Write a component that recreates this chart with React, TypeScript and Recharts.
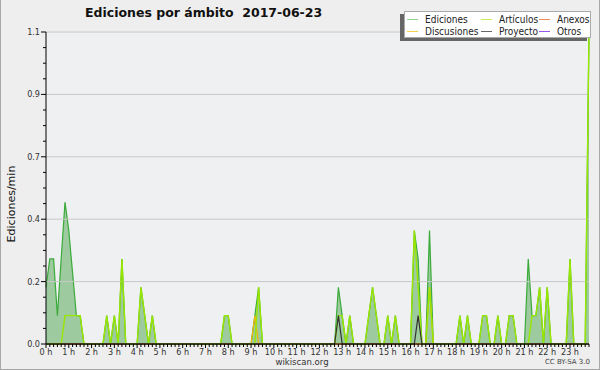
import React from 'react'
import {
  ComposedChart,
  Area,
  Line,
  XAxis,
  YAxis,
  CartesianGrid,
  ReferenceLine,
} from 'recharts'

// 10-minute slots, one row per hour (6 slots)
const ediciones = [
  0.2, 0.3, 0.3, 0.1, 0.3, 0.5, // 0 h
  0.4, 0.25, 0.1, 0.1, 0, 0, // 1 h
  0, 0, 0, 0, 0.1, 0, // 2 h
  0.1, 0, 0.3, 0, 0, 0, // 3 h
  0, 0.2, 0.1, 0, 0.1, 0, // 4 h
  0, 0, 0, 0, 0, 0, // 5 h
  0, 0, 0, 0, 0, 0, // 6 h
  0, 0, 0, 0, 0, 0.1, // 7 h
  0.1, 0, 0, 0, 0, 0, // 8 h
  0, 0.1, 0.2, 0, 0, 0, // 9 h
  0, 0, 0, 0, 0, 0, // 10 h
  0, 0, 0, 0, 0, 0, // 11 h
  0, 0, 0, 0, 0, 0.2, // 12 h
  0.1, 0, 0.1, 0, 0, 0, // 13 h
  0, 0.1, 0.2, 0.1, 0, 0, // 14 h
  0.1, 0, 0.1, 0, 0, 0, // 15 h
  0, 0.4, 0.3, 0, 0, 0.4, // 16 h
  0, 0, 0, 0, 0, 0, // 17 h
  0, 0.1, 0, 0.1, 0, 0, // 18 h
  0, 0.1, 0.1, 0, 0, 0.1, // 19 h
  0, 0, 0.1, 0.1, 0, 0, // 20 h
  0, 0.3, 0.1, 0.1, 0.2, 0, // 21 h
  0.2, 0, 0, 0, 0, 0, // 22 h
  0.3, 0, 0, 0, 0, 1.1, // 23 h
]

const articulos = [
  0, 0, 0, 0, 0, 0.1, // 0 h
  0.1, 0.1, 0.1, 0.1, 0, 0, // 1 h
  0, 0, 0, 0, 0.1, 0, // 2 h
  0.1, 0, 0.3, 0, 0, 0, // 3 h
  0, 0.2, 0.1, 0, 0.1, 0, // 4 h
  0, 0, 0, 0, 0, 0, // 5 h
  0, 0, 0, 0, 0, 0, // 6 h
  0, 0, 0, 0, 0, 0.1, // 7 h
  0.1, 0, 0, 0, 0, 0, // 8 h
  0, 0, 0.2, 0, 0, 0, // 9 h
  0, 0, 0, 0, 0, 0, // 10 h
  0, 0, 0, 0, 0, 0, // 11 h
  0, 0, 0, 0, 0, 0.1, // 12 h
  0.1, 0, 0.1, 0, 0, 0, // 13 h
  0, 0.1, 0.2, 0.1, 0, 0, // 14 h
  0.1, 0, 0.1, 0, 0, 0, // 15 h
  0, 0.4, 0.2, 0, 0, 0.2, // 16 h
  0, 0, 0, 0, 0, 0, // 17 h
  0, 0.1, 0, 0.1, 0, 0, // 18 h
  0, 0.1, 0.1, 0, 0, 0.1, // 19 h
  0, 0, 0.1, 0.1, 0, 0, // 20 h
  0, 0, 0.1, 0.1, 0.2, 0, // 21 h
  0.2, 0, 0, 0, 0, 0, // 22 h
  0.3, 0, 0, 0, 0, 1.1, // 23 h
]

// sparse series: [slot index, value], every other slot is 0
const discusiones: [number, number][] = [[55, 0.1], [101, 0.2]]
const proyecto: [number, number][] = [[77, 0.1], [98, 0.1]]
const anexos: [number, number][] = []
const otros: [number, number][] = []

const hourLabels = [
  '0 h', '1 h', '2 h', '3 h', '4 h', '5 h', '6 h', '7 h', '8 h', '9 h', '10 h', '11 h',
  '12 h', '13 h', '14 h', '15 h', '16 h', '17 h', '18 h', '19 h', '20 h', '21 h', '22 h', '23 h',
]

const yMajor = [0, 0.22, 0.44, 0.66, 0.88, 1.1]

const FONT = '"DejaVu Sans", sans-serif'
const COND = '"DejaVu Sans Condensed", "DejaVu Sans", sans-serif'

const sparse = (list: [number, number][], i: number) => {
  const hit = list.find((p) => p[0] === i)
  return hit ? hit[1] : 0
}

const data = ediciones.map((v, i) => ({
  t: i,
  ediciones: v,
  articulos: articulos[i],
  discusiones: sparse(discusiones, i),
  proyecto: sparse(proyecto, i),
  anexos: sparse(anexos, i),
  otros: sparse(otros, i),
}))

const xTicks = data.map((d) => d.t)
const yTicks: number[] = []
yMajor.forEach((v, i) => {
  yTicks.push(v)
  if (i < yMajor.length - 1) {
    const step = (yMajor[i + 1] - v) / 4
    for (let k = 1; k < 4; k++) yTicks.push(v + step * k)
  }
})

const legendItems = [
  { name: 'Ediciones', color: '#8fcf8f' },
  { name: 'Artículos', color: '#c8ee55' },
  { name: 'Anexos', color: '#ee8a5a' },
  { name: 'Discusiones', color: '#f5d04a' },
  { name: 'Proyecto', color: '#666666' },
  { name: 'Otros', color: '#9a55ee' },
]

const YTick = (props: any) => {
  const { x, y, payload } = props
  const major = yMajor.some((m) => Math.abs(m - payload.value) < 1e-6)
  return (
    <g>
      <line x1={x - (major ? 5 : 3)} x2={x} y1={y} y2={y} stroke="#000" />
      {major && (
        <text x={x - 6} y={y + 3} textAnchor="end" fontSize={9} fill="#333" fontFamily={COND}>
          {payload.value.toFixed(1)}
        </text>
      )}
    </g>
  )
}

const XTick = (props: any) => {
  const { x, y, payload } = props
  const hour = payload.value % 6 === 0
  return (
    <g>
      <line x1={x} x2={x} y1={y} y2={y + (hour ? 4 : 3)} stroke="#000" />
      {hour && (
        <text x={x} y={y + 10.5} textAnchor="middle" fontSize={9} fill="#333" fontFamily={COND}>
          {hourLabels[payload.value / 6]}
        </text>
      )}
    </g>
  )
}

export default function App() {
  return (
    <div
      style={{
        position: 'absolute',
        left: 0,
        top: 0,
        width: 600,
        height: 370,
        background: '#eeeeee',
        fontFamily: FONT,
        overflow: 'hidden',
      }}
    >
      <ComposedChart
        width={600}
        height={370}
        data={data}
        margin={{ top: 32, right: 11, bottom: 0, left: 10 }}
      >
        <CartesianGrid horizontal={false} vertical={false} fill="#eff0f1" />
        {yMajor.slice(1).map((v) => (
          <ReferenceLine key={v} y={v} stroke="#c8c8c8" strokeWidth={1} />
        ))}
        <Area
          type="linear"
          dataKey="ediciones"
          stroke="#3aaa3a"
          strokeWidth={1.2}
          fill="#3c9c3c"
          fillOpacity={0.45}
          isAnimationActive={false}
        />
        <Line type="linear" dataKey="otros" stroke="#8833ff" dot={false} strokeWidth={1.2} isAnimationActive={false} />
        <Line type="linear" dataKey="anexos" stroke="#ff7733" dot={false} strokeWidth={1.2} isAnimationActive={false} />
        <Line type="linear" dataKey="discusiones" stroke="#f0b800" dot={false} strokeWidth={1.2} isAnimationActive={false} />
        <Line type="linear" dataKey="articulos" stroke="#99e600" dot={false} strokeWidth={1.4} isAnimationActive={false} />
        <Line type="linear" dataKey="proyecto" stroke="#333333" dot={false} strokeWidth={1.2} isAnimationActive={false} />
        <XAxis
          dataKey="t"
          type="number"
          domain={[0, 143]}
          ticks={xTicks}
          interval={0}
          height={26}
          tickSize={0}
          tickMargin={0}
          tick={<XTick />}
          axisLine={{ stroke: '#000' }}
        />
        <YAxis
          type="number"
          domain={[0, 1.1]}
          ticks={yTicks}
          interval={0}
          width={36}
          tickSize={0}
          tickMargin={0}
          tick={<YTick />}
          axisLine={{ stroke: '#000' }}
        />
      </ComposedChart>

      <div
        style={{
          position: 'absolute',
          left: 85,
          top: 5,
          fontSize: 12.5,
          fontWeight: 'bold',
          color: '#111',
          whiteSpace: 'pre',
        }}
      >
        {'Ediciones por ámbito  2017-06-23'}
      </div>

      <div
        style={{
          position: 'absolute',
          left: 11,
          top: 204,
          transform: 'translate(-50%, -50%) rotate(-90deg)',
          fontSize: 11,
          color: '#111',
          whiteSpace: 'nowrap',
        }}
      >
        Ediciones/min
      </div>

      <div
        style={{
          position: 'absolute',
          left: 404,
          top: 11,
          width: 187,
          height: 27,
          background: '#fff',
          border: '1px solid #aaa',
          boxShadow: '-4px 3px 0 #666',
          display: 'grid',
          gridTemplateColumns: '74px 58px 52px',
          gridTemplateRows: '12px 12px',
          padding: '1px 0 0 2px',
          boxSizing: 'border-box',
          fontFamily: COND,
        }}
      >
        {legendItems.map((it) => (
          <div key={it.name} style={{ display: 'flex', alignItems: 'center', fontSize: 10, color: '#222', whiteSpace: 'nowrap' }}>
            <span style={{ width: 11, height: 1, background: it.color, marginRight: 7, flex: 'none' }} />
            {it.name}
          </div>
        ))}
      </div>

      <div
        style={{
          position: 'absolute',
          left: 0,
          width: 600,
          top: 356,
          textAlign: 'center',
          fontSize: 9.5,
          lineHeight: '11px',
          color: '#333',
          paddingLeft: 4,
          boxSizing: 'border-box',
          fontFamily: COND,
        }}
      >
        wikiscan.org
      </div>
      <div style={{ position: 'absolute', right: 10, top: 358, fontSize: 7, lineHeight: '8px', color: '#444' }}>CC BY-SA 3.0</div>

      <div
        style={{
          position: 'absolute',
          left: 0,
          top: 0,
          width: 600,
          height: 370,
          boxSizing: 'border-box',
          borderLeft: '1px solid #a8a8a8',
          borderRight: '1px solid #a8a8a8',
          borderBottom: '1px solid #a8a8a8',
          pointerEvents: 'none',
        }}
      />
    </div>
  )
}
